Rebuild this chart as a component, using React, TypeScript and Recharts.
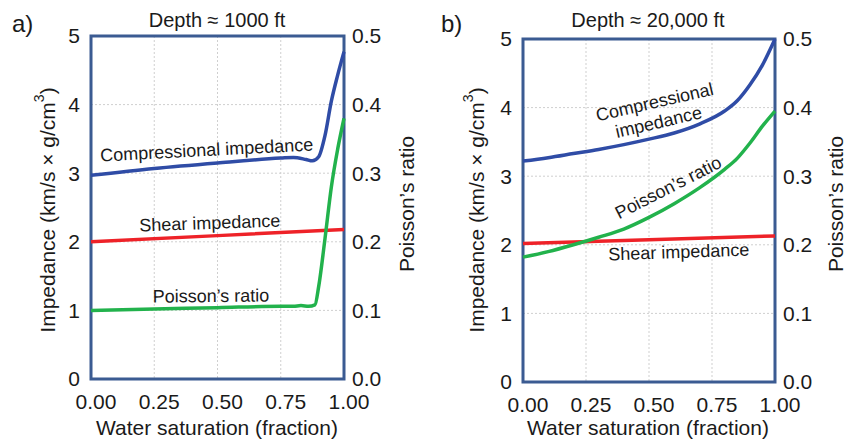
import React from 'react'
import { LineChart, Line, XAxis, YAxis, CartesianGrid, ReferenceArea } from 'recharts'

// Panel a) depth ~1000 ft
const satCompA = [0, 0.25, 0.5, 0.75, 0.8, 0.85, 0.875, 0.9, 0.925, 0.95, 0.975, 1]
const compA = [2.97, 3.07, 3.15, 3.22, 3.23, 3.2, 3.18, 3.24, 3.55, 4.05, 4.43, 4.77]
const satShearA = [0, 0.5, 1]
const shearA = [2.0, 2.09, 2.18]
const satPoisA = [0, 0.25, 0.5, 0.75, 0.8, 0.83, 0.86, 0.885, 0.9, 0.925, 0.95, 0.975, 1]
const poisA = [0.1, 0.102, 0.104, 0.106, 0.106, 0.107, 0.106, 0.108, 0.135, 0.205, 0.28, 0.335, 0.38]

// Panel b) depth ~20,000 ft
const satB = [0, 0.1, 0.2, 0.3, 0.4, 0.5, 0.6, 0.7, 0.8, 0.85, 0.9, 0.95, 1]
const compB = [3.22, 3.27, 3.33, 3.39, 3.46, 3.54, 3.63, 3.76, 3.95, 4.1, 4.33, 4.62, 5.0]
const poisB = [0.182, 0.19, 0.2, 0.211, 0.223, 0.24, 0.26, 0.283, 0.31, 0.326, 0.348, 0.373, 0.395]
const satShearB = [0, 0.5, 1]
const shearB = [2.02, 2.075, 2.13]

const satTicks = [0, 0.25, 0.5, 0.75, 1]
const impTicks = [0, 1, 2, 3, 4, 5]
const poisTicks = [0, 0.1, 0.2, 0.3, 0.4, 0.5]

const FONT = '"Liberation Sans", Arial, sans-serif'
const TEXT = '#1a1a1a'
const BOX = '#3b5b92'
const BLUE = '#2f4ca6'
const RED = '#ee2228'
const GREEN = '#22b24c'

const pts = (xs: number[], ys: number[]) => xs.map((x, i) => ({ x, y: ys[i] }))

type Note = { text: string; x: number; y: number; rot: number }

type PanelProps = {
  letter: string
  title: string
  comp: { x: number; y: number }[]
  shear: { x: number; y: number }[]
  pois: { x: number; y: number }[]
  margin: { top: number; right: number; bottom: number; left: number }
  notes: Note[]
  titleX: number
}

function Panel({ letter, title, comp, shear, pois, margin, notes, titleX }: PanelProps) {
  const tick = { fill: TEXT, fontSize: 21, fontFamily: FONT }
  return (
    <div style={{ position: 'relative', width: 429, height: 442 }}>
      <LineChart width={429} height={442} margin={margin}>
        <CartesianGrid yAxisId="imp" stroke="#cfcfcf" strokeDasharray="2 2" />
        <XAxis
          dataKey="x"
          type="number"
          domain={[0, 1]}
          ticks={satTicks}
          tickFormatter={(v: number) => v.toFixed(2)}
          axisLine={false}
          tickLine={false}
          tickMargin={9}
          height={30}
          tick={{ ...tick, dx: 5 }}
        />
        <YAxis
          yAxisId="imp"
          type="number"
          domain={[0, 5]}
          ticks={impTicks}
          axisLine={false}
          tickLine={false}
          tickMargin={5}
          width={40}
          tick={tick}
        />
        <YAxis
          yAxisId="pois"
          orientation="right"
          type="number"
          domain={[0, 0.5]}
          ticks={poisTicks}
          tickFormatter={(v: number) => v.toFixed(1)}
          axisLine={false}
          tickLine={false}
          tickMargin={2}
          width={50}
          tick={tick}
        />
        <Line yAxisId="imp" data={comp} dataKey="y" type="monotone" stroke={BLUE} strokeWidth={3.5} dot={false} isAnimationActive={false} />
        <Line yAxisId="imp" data={shear} dataKey="y" type="linear" stroke={RED} strokeWidth={3.5} dot={false} isAnimationActive={false} />
        <Line yAxisId="pois" data={pois} dataKey="y" type="monotone" stroke={GREEN} strokeWidth={3.5} dot={false} isAnimationActive={false} />
        <ReferenceArea yAxisId="imp" x1={0} x2={1} y1={0} y2={5} fill="none" stroke={BOX} strokeWidth={3} />
      </LineChart>
      <svg
        width={429}
        height={442}
        style={{ position: 'absolute', left: 0, top: 0, pointerEvents: 'none' }}
        fontFamily={FONT}
        fill={TEXT}
      >
        <text x={12} y={32} fontSize={24}>{letter}</text>
        <text x={titleX} y={27} fontSize={20} textAnchor="middle">{title}</text>
        <text
          x={47}
          y={210}
          fontSize={21}
          textAnchor="middle"
          dominantBaseline="central"
          transform="rotate(-90 47 210)"
        >
          Impedance (km/s × g/cm<tspan fontSize={14} dy={-8}>3</tspan><tspan dy={8}>)</tspan>
        </text>
        <text
          x={406}
          y={204}
          fontSize={21}
          textAnchor="middle"
          dominantBaseline="central"
          transform="rotate(-90 406 204)"
        >
          Poisson’s ratio
        </text>
        <text x={titleX} y={435} fontSize={21} textAnchor="middle">Water saturation (fraction)</text>
        {notes.map((n, i) => (
          <text key={i} x={n.x} y={n.y} fontSize={18} textAnchor="middle" transform={`rotate(${n.rot} ${n.x} ${n.y})`}>
            {n.text}
          </text>
        ))}
      </svg>
    </div>
  )
}

export default function App() {
  return (
    <div style={{ position: 'absolute', left: 0, top: 0, width: 858, height: 442, display: 'flex', background: '#fff' }}>
      <Panel
        letter="a)"
        title="Depth ≈ 1000 ft"
        titleX={217}
        comp={pts(satCompA, compA)}
        shear={pts(satShearA, shearA)}
        pois={pts(satPoisA, poisA)}
        margin={{ top: 36, right: 35, bottom: 33, left: 51 }}
        notes={[
          { text: 'Compressional impedance', x: 207, y: 156, rot: -3 },
          { text: 'Shear impedance', x: 210, y: 229, rot: -2 },
          { text: 'Poisson’s ratio', x: 211, y: 302, rot: -0.5 },
        ]}
      />
      <Panel
        letter="b)"
        title="Depth ≈ 20,000 ft"
        titleX={219}
        comp={pts(satB, compB)}
        shear={pts(satShearB, shearB)}
        pois={pts(satB, poisB)}
        margin={{ top: 39, right: 33, bottom: 30, left: 54 }}
        notes={[
          { text: 'Compressional', x: 227, y: 108, rot: -13 },
          { text: 'impedance', x: 231, y: 128, rot: -13 },
          { text: 'Poisson’s ratio', x: 242, y: 193, rot: -27 },
          { text: 'Shear impedance', x: 250, y: 258, rot: -2 },
        ]}
      />
    </div>
  )
}
